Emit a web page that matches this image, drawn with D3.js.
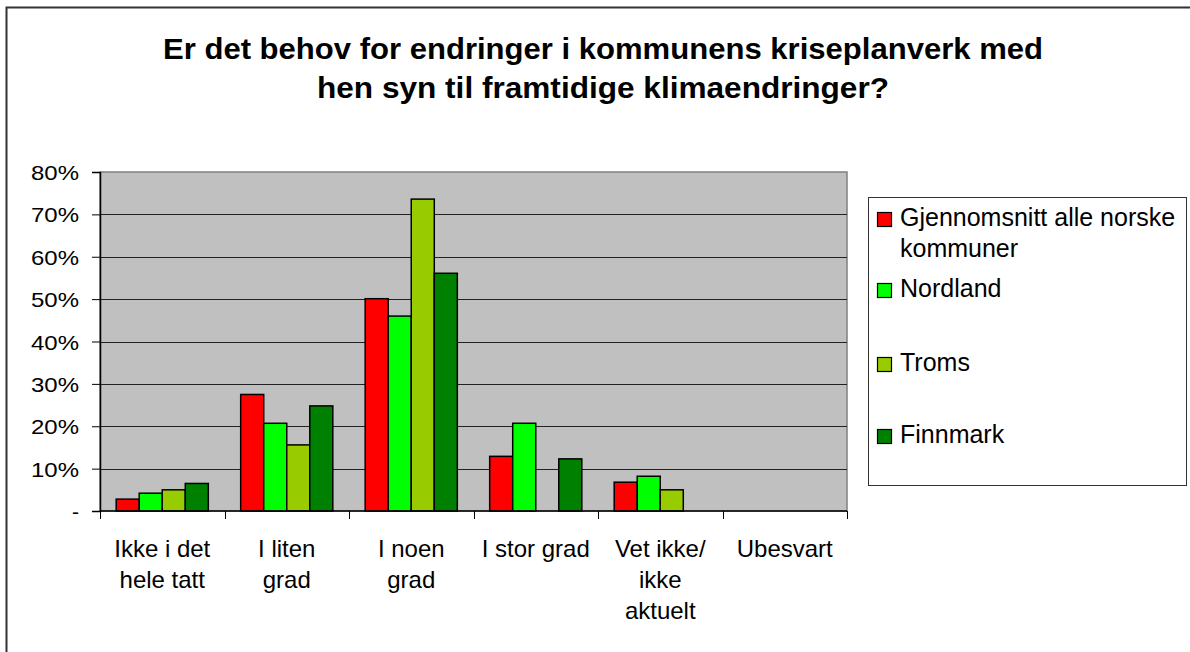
<!DOCTYPE html>
<html>
<head>
<meta charset="utf-8">
<script src="https://cdn.jsdelivr.net/npm/d3@7"></script>
<style>
body { margin: 0; background: #fff; }
text { font-family: "Liberation Sans", Arial, sans-serif; }
</style>
</head>
<body>
<div id="chart"></div>
<script>
// data
var categories = [["Ikke i det", "hele tatt"], ["I liten", "grad"], ["I noen", "grad"], ["I stor grad"], ["Vet ikke/", "ikke", "aktuelt"], ["Ubesvart"]];
var seriesNames = ["Gjennomsnitt alle norske kommuner", "Nordland", "Troms", "Finnmark"];
var gjennomsnitt = [2.8, 27.5, 50.1, 12.9, 6.8, 0];
var nordland = [4.2, 20.7, 46.0, 20.7, 8.2, 0];
var troms = [5.0, 15.6, 73.6, 0, 5.0, 0];
var finnmark = [6.5, 24.8, 56.1, 12.3, 0, 0];
var yTicks = [0, 10, 20, 30, 40, 50, 60, 70, 80];
var colors = ["#ff0000", "#00ff00", "#99cc00", "#008000"];

var allSeries = [gjennomsnitt, nordland, troms, finnmark];

var svgWidth = 1190, svgHeight = 652;
var plot = {left: 100, top: 172, right: 847, bottom: 511};

var svg = d3.select("#chart").append("svg")
  .attr("width", svgWidth)
  .attr("height", svgHeight);

// outer chart border
svg.append("rect")
  .attr("x", 6.5).attr("y", 7.5)
  .attr("width", svgWidth + 10).attr("height", svgHeight + 10)
  .attr("fill", "#fff").attr("stroke", "#333").attr("stroke-width", 2);

// title
var title = svg.append("text")
  .attr("text-anchor", "middle")
  .attr("font-size", "30px")
  .attr("font-weight", "bold")
  .attr("fill", "#000");
title.append("tspan").attr("x", 603).attr("y", 59)
  .attr("textLength", 880).attr("lengthAdjust", "spacingAndGlyphs")
  .text("Er det behov for endringer i kommunens kriseplanverk med");
title.append("tspan").attr("x", 603).attr("y", 98)
  .attr("textLength", 572).attr("lengthAdjust", "spacingAndGlyphs")
  .text("hen syn til framtidige klimaendringer?");

var x0 = d3.scaleBand()
  .domain(d3.range(categories.length))
  .range([plot.left, plot.right])
  .paddingInner(0.26)
  .paddingOuter(0.13);

var x1 = d3.scaleBand()
  .domain(d3.range(seriesNames.length))
  .range([0, x0.bandwidth()]);

var y = d3.scaleLinear()
  .domain([0, 80])
  .range([plot.bottom, plot.top]);

// plot background
svg.append("rect")
  .attr("x", plot.left).attr("y", plot.top)
  .attr("width", plot.right - plot.left).attr("height", plot.bottom - plot.top)
  .attr("fill", "#c0c0c0").attr("stroke", "#808080").attr("stroke-width", 1.5);

// gridlines
svg.append("g").selectAll("line")
  .data(yTicks.filter(d => d > 0 && d < 80))
  .enter().append("line")
  .attr("x1", plot.left).attr("x2", plot.right)
  .attr("y1", d => Math.round(y(d)) + 0.5).attr("y2", d => Math.round(y(d)) + 0.5)
  .attr("stroke", "#222").attr("stroke-width", 1);

// bars
var groups = svg.append("g").selectAll("g")
  .data(d3.range(categories.length))
  .enter().append("g")
  .attr("transform", i => `translate(${x0(i)},0)`);

groups.selectAll("rect")
  .data(i => allSeries.map((s, k) => ({k: k, v: s[i]})).filter(d => d.v > 0))
  .enter().append("rect")
  .attr("x", d => x1(d.k))
  .attr("y", d => y(d.v))
  .attr("width", x1.bandwidth())
  .attr("height", d => plot.bottom - y(d.v))
  .attr("fill", d => colors[d.k])
  .attr("stroke", "#000").attr("stroke-width", 1.5);

// y axis
var leftAxis = d3.axisLeft(y)
  .tickValues(yTicks)
  .tickSize(8)
  .tickPadding(13)
  .tickFormat(d => d === 0 ? "-" : d + "%");

var yg = svg.append("g")
  .attr("transform", `translate(${plot.left},0)`)
  .call(leftAxis);
yg.select(".domain").attr("stroke", "#000").attr("stroke-width", 1.5);
yg.selectAll(".tick line").attr("stroke", "#000");
yg.selectAll("text")
  .attr("font-size", "21px").attr("fill", "#000")
  .attr("font-family", "Liberation Sans, Arial, sans-serif")
  .attr("dy", "0.36em");
yg.selectAll("text").filter(d => d > 0)
  .attr("textLength", d => d >= 10 ? 48 : 24)
  .attr("lengthAdjust", "spacingAndGlyphs");

// x axis with ticks at band boundaries
var step = (plot.right - plot.left) / categories.length;
var xg = svg.append("g");
xg.append("line")
  .attr("x1", plot.left).attr("x2", plot.right)
  .attr("y1", plot.bottom).attr("y2", plot.bottom)
  .attr("stroke", "#000").attr("stroke-width", 1.5);
xg.selectAll(".xt")
  .data(d3.range(categories.length + 1))
  .enter().append("line")
  .attr("x1", i => Math.round(plot.left + i * step) + 0.5)
  .attr("x2", i => Math.round(plot.left + i * step) + 0.5)
  .attr("y1", plot.bottom).attr("y2", plot.bottom + 8)
  .attr("stroke", "#000");

var labels = xg.selectAll(".xl")
  .data(categories)
  .enter().append("text")
  .attr("text-anchor", "middle")
  .attr("font-size", "24px")
  .attr("fill", "#000");
labels.each(function(lines, i) {
  var cx = plot.left + (i + 0.5) * step;
  d3.select(this).selectAll("tspan")
    .data(lines)
    .enter().append("tspan")
    .attr("x", cx)
    .attr("y", (d, j) => 557 + j * 31)
    .text(d => d);
});

// legend
var legend = svg.append("g");
legend.append("rect")
  .attr("x", 868.5).attr("y", 197.5)
  .attr("width", 318).attr("height", 288)
  .attr("fill", "#fff").attr("stroke", "#333").attr("stroke-width", 1);

var legendRows = [[["Gjennomsnitt alle norske", "kommuner"], 226], [["Nordland"], 297], [["Troms"], 371], [["Finnmark"], 443]];
legendRows.forEach(function(row, k) {
  legend.append("rect")
    .attr("x", 877.5).attr("y", row[1] - 13.5)
    .attr("width", 14).attr("height", 14)
    .attr("fill", colors[k]).attr("stroke", "#000").attr("stroke-width", 1.2);
  var t = legend.append("text").attr("font-size", "25px").attr("fill", "#000");
  row[0].forEach(function(line, j) {
    t.append("tspan").attr("x", 900).attr("y", row[1] + j * 31).text(line);
  });
});
</script>
</body>
</html>
